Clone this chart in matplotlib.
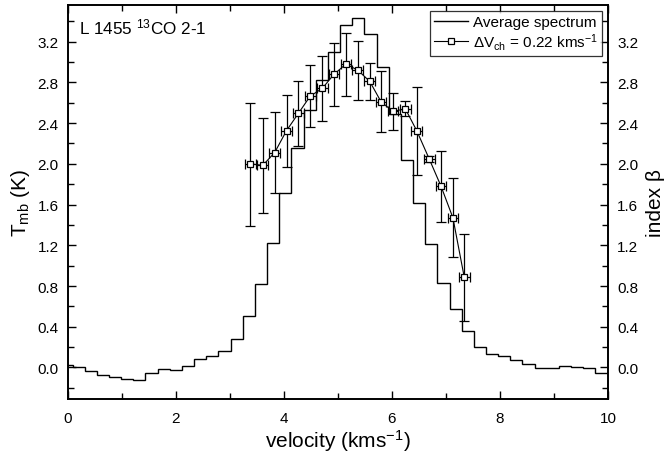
import numpy as np
import matplotlib
matplotlib.use("Agg")
import matplotlib.pyplot as plt
from matplotlib.ticker import MultipleLocator

plt.rcParams['font.family'] = ['Liberation Sans', 'DejaVu Sans']
plt.rcParams['mathtext.fontset'] = 'custom'
plt.rcParams['mathtext.rm'] = 'Liberation Sans'
plt.rcParams['mathtext.it'] = 'Liberation Sans'

# Average spectrum: channel grid and brightness temperatures (K)
chan_start = -0.136
chan_width = 0.2251
spec_tmb = [0.02, 0.00, -0.035, -0.07, -0.09, -0.11, -0.12, -0.05, -0.02, -0.03,
            0.01, 0.085, 0.115, 0.16, 0.275, 0.51, 0.82, 1.22, 1.71, 2.155,
            2.525, 2.825, 3.10, 3.36, 3.435, 3.28, 2.95, 2.49, 2.035, 1.616,
            1.21, 0.83, 0.572, 0.36, 0.196, 0.128, 0.115, 0.078, 0.036, -0.01,
            -0.01, 0.01, 0.003, -0.01, -0.05]

# Spectral index beta per channel (dV_ch = 0.22 km/s)
beta_v = [3.38, 3.61, 3.83, 4.05, 4.27, 4.49, 4.71, 4.93, 5.15, 5.37,
          5.59, 5.80, 6.02, 6.25, 6.46, 6.69, 6.91, 7.13, 7.34]
beta = [2.00, 1.985, 2.11, 2.326, 2.496, 2.666, 2.74, 2.88, 2.98, 2.92,
        2.81, 2.61, 2.515, 2.54, 2.326, 2.05, 1.78, 1.47, 0.886]
beta_hi = [2.60, 2.45, 2.505, 2.68, 2.81, 2.97, 3.06, 3.19, 3.285, 3.21,
           2.99, 2.91, 2.70, 2.62, 2.755, 2.08, 2.13, 1.86, 1.315]
beta_lo = [1.39, 1.52, 1.714, 1.97, 2.18, 2.36, 2.42, 2.57, 2.67, 2.63,
           2.63, 2.31, 2.33, 2.47, 1.894, 2.02, 1.43, 1.08, 0.458]
beta_xerr = 0.1

edges = chan_start + chan_width * np.arange(len(spec_tmb) + 1)

fig = plt.figure(figsize=(6.67, 4.56), dpi=100)
ax = fig.add_axes([0.1015, 0.1228, 0.81, 0.864])
ax2 = ax.twinx()

ax.stairs(spec_tmb, edges, color='black', linewidth=1.0, baseline=None)

b = np.array(beta)
yerr = np.vstack([b - np.array(beta_lo), np.array(beta_hi) - b])
ax2.errorbar(beta_v, beta, yerr=yerr, xerr=beta_xerr, fmt='-s', color='black',
             linewidth=0.8, elinewidth=0.9, capsize=3.5, capthick=0.9,
             markersize=4.2, markerfacecolor='white', markeredgecolor='black',
             markeredgewidth=0.9)

ylim = (-0.31, 3.56)
for a in (ax, ax2):
    a.set_ylim(*ylim)
    a.yaxis.set_major_locator(MultipleLocator(0.4))
    a.yaxis.set_minor_locator(MultipleLocator(0.2))
    a.yaxis.set_major_formatter(plt.FuncFormatter(lambda v, p: f"{v:.1f}"))
ax.set_xlim(0, 10)
ax.xaxis.set_major_locator(MultipleLocator(2))
ax.xaxis.set_minor_locator(MultipleLocator(1))

ax.tick_params(which='both', direction='in', top=True, labelsize=11, width=1.0)
ax.tick_params(which='major', length=6)
ax.tick_params(which='minor', length=4)
ax.tick_params(axis='y', right=False, pad=6.5)
ax.tick_params(axis='x', pad=8.5)
ax2.tick_params(which='both', direction='in', labelsize=11, width=1.0, pad=6.5)
ax2.tick_params(which='major', length=6)
ax2.tick_params(which='minor', length=4)
for a in (ax, ax2):
    for s in a.spines.values():
        s.set_linewidth(1.2)

ax.set_xlabel('velocity (kms$^{-1}$)', fontsize=15, labelpad=2)
ax.set_ylabel('T$_{\\rm mb}$ (K)', fontsize=15, labelpad=4)
ax2.set_ylabel('index \u03b2', fontsize=15, labelpad=6)

ax.text(0.02, 0.97, 'L 1455 $^{13}$CO 2-1', transform=ax.transAxes,
        fontsize=12.3, ha='left', va='top')

h1, = ax.plot([], [], color='black', linewidth=1.0)
h2, = ax.plot([], [], '-s', color='black', linewidth=0.8, markersize=4.2,
              markerfacecolor='white', markeredgewidth=0.9)
leg = ax2.legend([h1, h2], ['Average spectrum', '\u0394V$_{\\rm ch}$ = 0.22 kms$^{-1}$'],
                 loc='upper right', fontsize=11, frameon=True, fancybox=False,
                 borderaxespad=0.4, handlelength=2.2, handletextpad=0.35,
                 borderpad=0.25, labelspacing=0.15)
leg.get_frame().set_edgecolor('black')
leg.get_frame().set_linewidth(0.9)

fig.savefig('out.png', dpi=100)
